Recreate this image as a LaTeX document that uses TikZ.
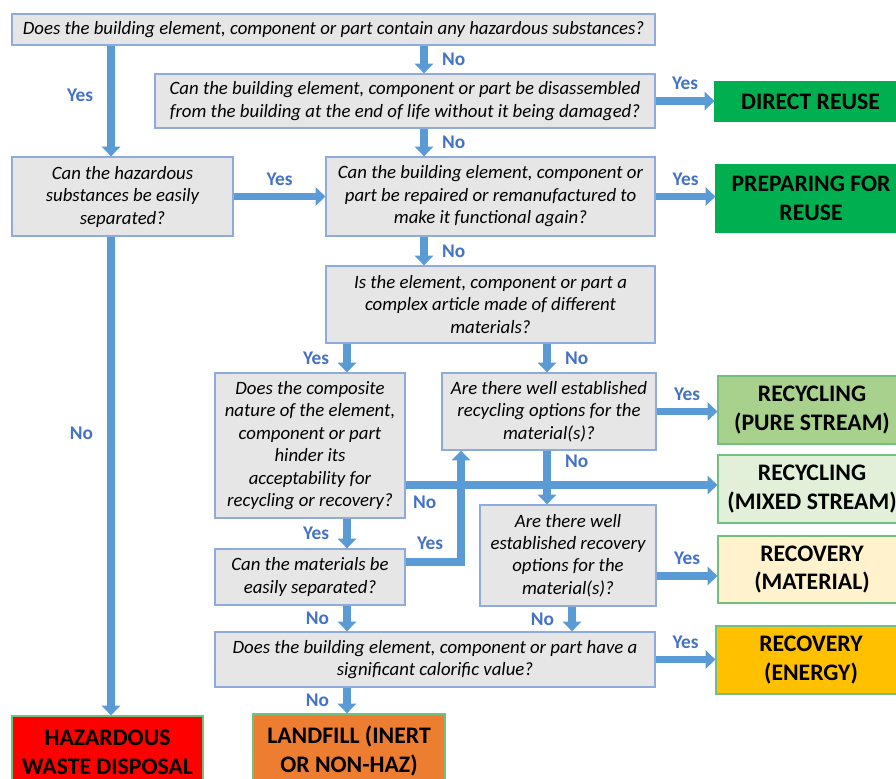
\documentclass[tikz,border=0pt]{standalone}
\usepackage{fontspec}
\setmainfont{Carlito}
\definecolor{BoxFill}{HTML}{E7E6E6}
\definecolor{BoxEdge}{HTML}{8FAADC}
\definecolor{FlowBlue}{HTML}{5B9BD5}
\definecolor{LabelBlue}{HTML}{4472C4}
\definecolor{ReuseGreen}{HTML}{00B050}
\definecolor{PureGreen}{HTML}{A9D18E}
\definecolor{MixedGreen}{HTML}{E2F0D9}
\definecolor{MatYellow}{HTML}{FFF2CC}
\definecolor{EnergyAmber}{HTML}{FFC000}
\definecolor{HazRed}{HTML}{FF0000}
\definecolor{LandOrange}{HTML}{ED7D31}
\definecolor{OutEdge}{HTML}{70C080}
\usetikzlibrary{arrows.meta}

\begin{document}
\begin{tikzpicture}[
          x=0.02cm,y=-0.02cm,
          qbox/.style={draw=BoxEdge,line width=0.8pt,fill=BoxFill,
                       align=center,inner sep=2pt,
                       font=\fontsize{10.7}{12.8}\selectfont\itshape},
          obox/.style={draw=OutEdge,line width=0.8pt,align=center,
                       inner sep=2pt,
                       font=\fontsize{13.5}{16.4}\selectfont\bfseries},
          ar/.style={-{Triangle[length=5.5pt,width=10.5pt]},
                     line width=4.5pt,FlowBlue},
          lab/.style={font=\fontsize{11}{13}\selectfont\bfseries,
                      text=LabelBlue,inner sep=1pt}]
        \useasboundingbox (0,0) rectangle (896,778);
        \clip (0,0) rectangle (896,778);
        % questions
        \node[qbox,minimum width=12.86cm,minimum height=0.62cm] (q1) at (333.5,29.5)
            {Does the building element, component or part contain any hazardous substances?};
        \node[qbox,minimum width=10cm,minimum height=1.08cm] (q2) at (405,101)
            {Can the building element, component or part be disassembled\\from the building at the end of life without it being damaged?};
        \node[qbox,minimum width=4.42cm,minimum height=1.58cm] (q3) at (122.5,196.5)
            {Can the hazardous\\substances be easily\\separated?};
        \node[qbox,minimum width=6.58cm,minimum height=1.58cm] (q4) at (490.5,196.5)
            {Can the building element, component or\\part be repaired or remanufactured to\\make it functional again?};
        \node[qbox,minimum width=6.58cm,minimum height=1.54cm] (q5) at (490.5,304.5)
            {Is the element, component or part a\\complex article made of different\\materials?};
        \node[qbox,minimum width=3.8cm,minimum height=2.9cm] (q6) at (310,445.5)
            {Does the composite\\nature of the element,\\component or part\\hinder its\\acceptability for\\recycling or recovery?};
        \node[qbox,minimum width=4.28cm,minimum height=1.54cm] (q7) at (549,411.5)
            {Are there well established\\recycling options for the\\material(s)?};
        \node[qbox,minimum width=3.8cm,minimum height=1.12cm] (q8) at (310,577)
            {Can the materials be\\easily separated?};
        \node[qbox,minimum width=3.52cm,minimum height=2.02cm] (q9) at (568,555.5)
            {Are there well\\established recovery\\options for the\\material(s)?};
        \node[qbox,minimum width=8.8cm,minimum height=1.1cm] (q10) at (435,659.5)
            {Does the building element, component or part have a\\significant calorific value?};
        % outcomes
        \node[obox,draw=ReuseGreen,fill=ReuseGreen,minimum width=3.82cm,minimum height=0.78cm] (dr) at (810.5,101.5)
            {DIRECT REUSE};
        \node[obox,draw=ReuseGreen,fill=ReuseGreen,minimum width=3.8cm,minimum height=1.34cm] (prep) at (811,198.5)
            {PREPARING FOR\\REUSE};
        \node[obox,fill=PureGreen,minimum width=3.76cm,minimum height=1.36cm] (pure) at (812,410)
            {RECYCLING\\(PURE STREAM)};
        \node[obox,fill=MixedGreen,minimum width=3.76cm,minimum height=1.36cm] (mix) at (812,489)
            {RECYCLING\\(MIXED STREAM)};
        \node[obox,fill=MatYellow,minimum width=3.76cm,minimum height=1.34cm] (mat) at (812,569.5)
            {RECOVERY\\(MATERIAL)};
        \node[obox,fill=EnergyAmber,minimum width=3.8cm,minimum height=1.36cm] (en) at (811,660)
            {RECOVERY\\(ENERGY)};
        \node[obox,fill=HazRed,minimum width=3.82cm,minimum height=1.44cm,text depth=0pt] (haz) at (107.5,752)
            {HAZARDOUS\\WASTE DISPOSAL};
        \node[obox,fill=LandOrange,minimum width=3.84cm,minimum height=1.48cm] (land) at (349,751)
            {LANDFILL (INERT\\OR NON-HAZ)};
        % guides
        \coordinate (colA) at (424,0);
        \coordinate (colH) at (111,0);
        \coordinate (colB) at (347,0);
        \coordinate (colC) at (547,0);
        \coordinate (colE) at (572,0);
        \coordinate (mixY) at (0,485);
        \coordinate (matY) at (0,576);
        \coordinate (sepY) at (461,562);
        % connectors
        \draw[ar] (q1.south -| colA) -- node[lab,right=7pt]{No} (q2.north -| colA);
        \draw[ar] (q1.south -| colH) -- node[lab,left=7pt,pos=0.45]{Yes} (q3.north -| colH);
        \draw[ar] (q2.east) -- node[lab,above=3pt]{Yes} (q2.east -| dr.west);
        \draw[ar] (q2.south -| colA) -- node[lab,right=7pt]{No} (q4.north -| colA);
        \draw[ar] (q3.east) -- node[lab,above=3pt]{Yes} (q4.west);
        \draw[ar] (q4.east) -- node[lab,above=3pt]{Yes} (q4.east -| prep.west);
        \draw[ar] (q4.south -| colA) -- node[lab,right=7pt]{No} (q5.north -| colA);
        \draw[ar] (q3.south -| colH) -- node[lab,left=7pt,pos=0.41]{No} (haz.north -| colH);
        \draw[ar] (q5.south -| colB) -- node[lab,left=7pt]{Yes} (q6.north -| colB);
        \draw[ar] (q5.south -| colC) -- node[lab,right=7pt]{No} (q7.north -| colC);
        \draw[ar] (q7.east) -- node[lab,above=3pt]{Yes} (q7.east -| pure.west);
        \draw[ar] (q7.south -| colC) -- node[lab,right=7pt,pos=0.2]{No} (q9.north -| colC);
        \draw[ar] (q6.east |- mixY) -- node[lab,pos=0,anchor=north west,xshift=1pt,yshift=-3pt]{No} (mix.west |- mixY);
        \draw[ar] (q6.south -| colB) -- node[lab,left=7pt]{Yes} (q8.north -| colB);
        \draw[ar] (q8.east |- sepY) -| node[lab,pos=0.22,above=4pt]{Yes} (q7.south -| sepY);
        \draw[ar] (q8.south -| colB) -- node[lab,left=7pt]{No} (q10.north -| colB);
        \draw[ar] (q9.east |- matY) -- node[lab,above=3pt]{Yes} (mat.west |- matY);
        \draw[ar] (q9.south -| colE) -- node[lab,left=7pt]{No} (q10.north -| colE);
        \draw[ar] (q10.east) -- node[lab,above=3pt]{Yes} (q10.east -| en.west);
        \draw[ar] (q10.south -| colB) -- node[lab,left=7pt]{No} (land.north -| colB);
      \end{tikzpicture}
\end{document}
